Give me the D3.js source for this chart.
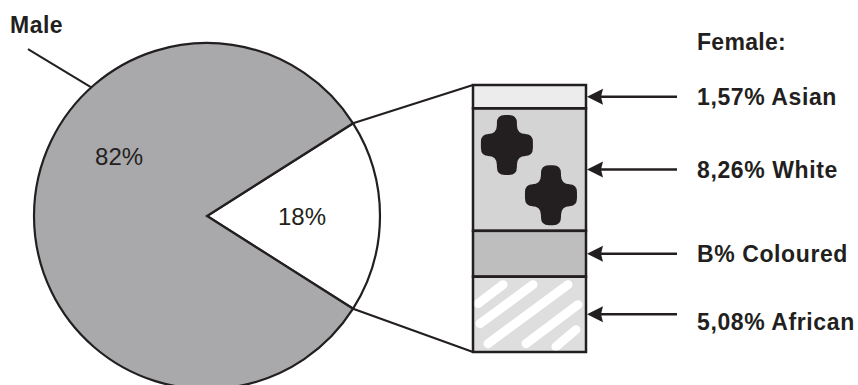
<!DOCTYPE html>
<html>
<head>
<meta charset="utf-8">
<script src="https://cdn.jsdelivr.net/npm/d3@7"></script>
<style>
  body { margin: 0; background: #fff; }
  text { font-family: "Liberation Sans", Arial, sans-serif; font-weight: bold; fill: #231f20; }
</style>
</head>
<body>
<div id="chart"></div>
<script>
// pie: gender split
const genderNames = ["Female", "Male"];
const genderShares = [18, 82];
const genderLabels = ["18%", "82%"];

// bar: female split by group (top to bottom)
const femaleGroups = ["Asian", "White", "Coloured", "African"];
const femaleShares = [1.57, 8.26, 3.09, 5.08];
const femaleLabels = ["1,57% Asian", "8,26% White", "B% Coloured", "5,08% African"];

const W = 858, H = 385;
const ink = "#231f20";

const svg = d3.select("#chart").append("svg")
  .attr("width", W).attr("height", H);

// ---- pie ----
const cx = 207, cy = 216, r = 173;
const femaleAngle = genderShares[0] / d3.sum(genderShares) * 2 * Math.PI;
const start = Math.PI / 2 - femaleAngle / 2;   // female slice centred at 3 o'clock

const pie = d3.pie().sort(null).startAngle(start).endAngle(start + 2 * Math.PI);
const arcs = pie(genderShares);
const arc = d3.arc().innerRadius(0).outerRadius(r);
const pieColor = d3.scaleOrdinal().domain(genderNames).range(["#ffffff", "#a9a9ab"]);

const gPie = svg.append("g").attr("transform", `translate(${cx},${cy})`);
gPie.selectAll("path").data(arcs).join("path")
  .attr("d", arc)
  .attr("fill", (d, i) => pieColor(genderNames[i]))
  .attr("stroke", ink).attr("stroke-width", 2.2).attr("stroke-linejoin", "miter");

const polar = (a, rr) => [Math.sin(a) * rr, -Math.cos(a) * rr];

// slice labels
const labelAngles = [arcs[0].startAngle + femaleAngle / 2, 304 * Math.PI / 180];
const labelRadii = [95, 106];
gPie.selectAll("text.pct").data(genderLabels).join("text")
  .attr("class", "pct")
  .attr("x", (d, i) => polar(labelAngles[i], labelRadii[i])[0])
  .attr("y", (d, i) => polar(labelAngles[i], labelRadii[i])[1])
  .attr("text-anchor", "middle").attr("dominant-baseline", "central")
  .attr("font-size", 24).style("font-weight", "normal")
  .text(d => d);

// "Male" leader
const p1 = polar(318 * Math.PI / 180, r), p2 = polar(313 * Math.PI / 180, r * 1.415);
gPie.append("line")
  .attr("x1", p1[0]).attr("y1", p1[1]).attr("x2", p2[0]).attr("y2", p2[1])
  .attr("stroke", ink).attr("stroke-width", 2);
svg.append("text").attr("x", 10).attr("y", 33).attr("font-size", 23)
  .style("letter-spacing", "0.5px").text(genderNames[1]);

// ---- stacked bar ----
const bx = 473, bw = 113;
const y = d3.scaleLinear().domain([0, d3.sum(femaleShares)]).range([85, 352]);
const cum = d3.cumsum(femaleShares);
const segs = femaleShares.map((v, i) => ({ name: femaleGroups[i], y0: y(cum[i] - v), y1: y(cum[i]) }));
const barColor = d3.scaleOrdinal().domain(femaleGroups)
  .range(["#ececec", "#d4d4d4", "#bebebe", "#dedede"]);

// connectors from the female slice edges to the bar
const e1 = polar(arcs[0].startAngle, r), e2 = polar(arcs[0].endAngle, r);
svg.append("line").attr("x1", cx + e1[0]).attr("y1", cy + e1[1])
  .attr("x2", bx).attr("y2", y(0)).attr("stroke", ink).attr("stroke-width", 2.2);
svg.append("line").attr("x1", cx + e2[0]).attr("y1", cy + e2[1])
  .attr("x2", bx).attr("y2", y.range()[1]).attr("stroke", ink).attr("stroke-width", 2.2);

const gBar = svg.append("g");
gBar.selectAll("rect").data(segs).join("rect")
  .attr("x", bx).attr("y", d => d.y0)
  .attr("width", bw).attr("height", d => d.y1 - d.y0)
  .attr("fill", d => barColor(d.name));

// white stripes on African segment
const af = segs[3];
const stripes = [[5, 27, 30, 8], [7, 47, 60, 8], [15, 67, 95, 8], [53, 67, 105, 28], [83, 70, 103, 53]];
svg.append("clipPath").attr("id", "afclip").append("rect")
  .attr("x", bx).attr("y", af.y0).attr("width", bw).attr("height", af.y1 - af.y0);
gBar.append("g").attr("clip-path", "url(#afclip)")
  .selectAll("line").data(stripes).join("line")
  .attr("x1", d => bx + d[0]).attr("y1", d => af.y0 + d[1])
  .attr("x2", d => bx + d[2]).attr("y2", d => af.y0 + d[3])
  .attr("stroke", "#fff").attr("stroke-width", 9).attr("stroke-linecap", "round");

// black crosses on White segment: plus with rounded tips and soft inner corners
function crossPath(ah, av, lh, lv, t, f) {
  return `M${-av},${-(lv - t)} Q${-av},${-lv} ${-av + t},${-lv} L${av - t},${-lv} Q${av},${-lv} ${av},${-(lv - t)}
    L${av},${-(ah + f)} Q${av},${-ah} ${av + f},${-ah}
    L${lh - t},${-ah} Q${lh},${-ah} ${lh},${-ah + t} L${lh},${ah - t} Q${lh},${ah} ${lh - t},${ah}
    L${av + f},${ah} Q${av},${ah} ${av},${ah + f}
    L${av},${lv - t} Q${av},${lv} ${av - t},${lv} L${-av + t},${lv} Q${-av},${lv} ${-av},${lv - t}
    L${-av},${ah + f} Q${-av},${ah} ${-av - f},${ah}
    L${-lh + t},${ah} Q${-lh},${ah} ${-lh},${ah - t} L${-lh},${-ah + t} Q${-lh},${-ah} ${-lh + t},${-ah}
    L${-av - f},${-ah} Q${-av},${-ah} ${-av},${-ah - f} Z`;
}
const wh = segs[1];
gBar.selectAll("path.cross").data([[0.30, 0.30], [0.69, 0.71]]).join("path")
  .attr("class", "cross")
  .attr("transform", d => `translate(${bx + d[0] * bw},${wh.y0 + d[1] * (wh.y1 - wh.y0)})`)
  .attr("d", crossPath(11, 10, 26, 30, 8, 9))
  .attr("fill", ink);

// segment outlines
gBar.selectAll("rect.outline").data(segs).join("rect")
  .attr("class", "outline")
  .attr("x", bx).attr("y", d => d.y0)
  .attr("width", bw).attr("height", d => d.y1 - d.y0)
  .attr("fill", "none").attr("stroke", ink).attr("stroke-width", 2.5);

// arrows and labels
const ax0 = bx + bw + 1, ax1 = 677;
const mid = d => (d.y0 + d.y1) / 2;
svg.selectAll("line.arrow").data(segs).join("line")
  .attr("class", "arrow")
  .attr("x1", ax0 + 12).attr("x2", ax1)
  .attr("y1", mid).attr("y2", mid)
  .attr("stroke", ink).attr("stroke-width", 2.5);
svg.selectAll("path.head").data(segs).join("path")
  .attr("class", "head")
  .attr("d", d => `M${ax0},${mid(d)} L${ax0 + 16},${mid(d) - 8} L${ax0 + 14},${mid(d)} L${ax0 + 16},${mid(d) + 8} Z`)
  .attr("fill", ink);

svg.selectAll("text.lab").data(segs).join("text")
  .attr("class", "lab")
  .attr("x", 697).attr("y", (d, i) => mid(d) + (i === 3 ? 8 : 0))
  .attr("dominant-baseline", "central")
  .attr("font-size", 23).style("letter-spacing", "0.6px")
  .text((d, i) => femaleLabels[i]);

svg.append("text").attr("x", 697).attr("y", 50).attr("font-size", 23)
  .style("letter-spacing", "0.3px").text(genderNames[0] + ":");
</script>
</body>
</html>
